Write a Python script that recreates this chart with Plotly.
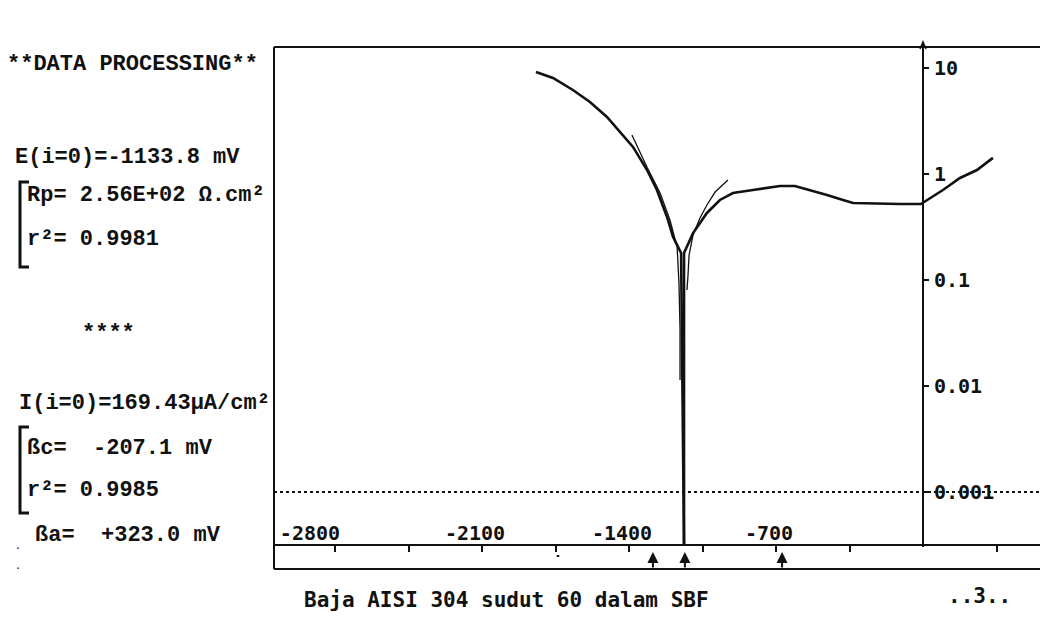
import math
import plotly.graph_objects as go

# ---------------- data ----------------
# measured polarization curve, E in mV, |i| in mA/cm2
cathodic_E = [-1843, -1762, -1667, -1586, -1505, -1443, -1381, -1314, -1267, -1219, -1190, -1152, -1138]
cathodic_i = [9.17, 8.05, 6.2, 4.78, 3.45, 2.49, 1.80, 1.09, 0.706, 0.393, 0.255, 0.180, 0.00032]

anodic_E = [-1138, -1138, -1095, -1029, -967, -905, -810, -681, -610, -538, -457, -381, -333, -110, -10, 95, 176, 257, 333]
anodic_i = [0.00032, 0.18, 0.277, 0.429, 0.569, 0.662, 0.706, 0.770, 0.770, 0.706, 0.634, 0.569, 0.533, 0.521, 0.521, 0.706, 0.917, 1.09, 1.42]

# Tafel fit curves
fit_c_E = [-1386, -1314, -1252, -1205, -1171, -1162, -1157, -1157]
fit_c_i = [2.33, 1.16, 0.662, 0.368, 0.205, 0.094, 0.034, 0.0114]
fit_a_E = [-929, -990, -1029, -1062, -1095, -1114, -1119, -1124]
fit_a_i = [0.877, 0.676, 0.51, 0.385, 0.266, 0.172, 0.111, 0.0805]

# markers under the potential axis
marker_E = [-1286, -1133.8, -671]
dash_marker_E = [-1738]

# axes
x_tickvals = [-2800, -2100, -1400, -700]
x_ticktext = ["-2800\u00a0\u00a0\u00a0", "-2100", "-1400", "-700"]
x_minorvals = [-2450, -1750, -1050, -350, 350]
y_tickvals = [0.001, 0.01, 0.1, 1, 10]
y_ticktext = ["0.001", "0.01", "0.1", "1", "10"]
ref_level = 0.001

left_lines = [
    ("**DATA PROCESSING**", 5, 65),
    ("E(i=0)=-1133.8 mV", 13, 157),
    ("Rp= 2.56E+02 \u03a9.cm\u00b2", 25, 196),
    ("r\u00b2= 0.9981", 25, 239),
    ("****", 80, 333),
    ("I(i=0)=169.43\u00b5A/cm\u00b2", 17, 403),
    ("\u00dfc=  -207.1 mV", 25, 448),
    ("r\u00b2= 0.9985", 25, 490),
    ("\u00dfa=  +323.0 mV", 33, 535),
]
caption = "Baja AISI 304 sudut 60 dalam SBF"
page_mark = "..3.."

# ---------------- geometry ----------------
W, H = 1040, 632
L, R, T, B = 274, 1040, 47, 569
Y_AXIS_PX = 923
X_AXIS_PX = 545


def fx(px):
    return (px - L) / (R - L)


def fy(py):
    return (B - py) / (B - T)


def e_at(px):
    return (px - Y_AXIS_PX) * 700 / 147


def logi_at(py):
    return (174 - py) / 106


INK = "#111111"
x_range = [e_at(L), e_at(R)]

fig = go.Figure()
# dotted reference level at 0.001
fig.add_trace(go.Scatter(x=x_range, y=[ref_level, ref_level], mode="lines",
                         line=dict(color=INK, width=2, dash="3px,3px"), hoverinfo="skip"))
fig.add_trace(go.Scatter(x=cathodic_E, y=cathodic_i, mode="lines",
                         line=dict(color=INK, width=2.6), hoverinfo="skip"))
fig.add_trace(go.Scatter(x=anodic_E, y=anodic_i, mode="lines",
                         line=dict(color=INK, width=2.6), hoverinfo="skip"))
fig.add_trace(go.Scatter(x=fit_c_E, y=fit_c_i, mode="lines",
                         line=dict(color=INK, width=1.3), hoverinfo="skip"))
fig.add_trace(go.Scatter(x=fit_a_E, y=fit_a_i, mode="lines",
                         line=dict(color=INK, width=1.3), hoverinfo="skip"))

shapes = []
# frame
shapes.append(dict(type="line", xref="paper", yref="paper", x0=0, x1=1, y0=1, y1=1,
                   line=dict(color=INK, width=2)))
shapes.append(dict(type="line", xref="paper", yref="paper", x0=0, x1=1, y0=0, y1=0,
                   line=dict(color=INK, width=2)))
shapes.append(dict(type="line", xref="paper", yref="paper", x0=0, x1=0, y0=0, y1=1,
                   line=dict(color=INK, width=2)))
# current axis line with arrow
yx = fx(Y_AXIS_PX)
shapes.append(dict(type="line", xref="paper", yref="paper", x0=yx, x1=yx,
                   y0=fy(X_AXIS_PX + 2), y1=fy(42),
                   line=dict(color=INK, width=2)))
shapes.append(dict(type="path", xref="paper", yref="paper",
                   path=f"M {fx(Y_AXIS_PX-3)},{fy(49)} L {yx},{fy(42)} L {fx(Y_AXIS_PX+3)},{fy(49)}",
                   line=dict(color=INK, width=1.5)))
# brackets on the left block
for top, bot in [(182, 267), (427, 513)]:
    shapes.append(dict(type="path", xref="paper", yref="paper",
                       path=f"M {fx(29)},{fy(top)} L {fx(20)},{fy(top)} L {fx(20)},{fy(bot)} L {fx(29)},{fy(bot)}",
                       line=dict(color=INK, width=3)))
# small dash marker under the axis
for e in dash_marker_E:
    shapes.append(dict(type="line", xref="x", yref="paper", x0=e - 6, x1=e + 6,
                       y0=fy(556), y1=fy(556), line=dict(color=INK, width=2)))

annotations = []
for e in marker_E:
    annotations.append(dict(x=e, xref="x", y=fy(552), yref="paper", text="",
                            showarrow=True, ax=0, ay=17, arrowhead=2, arrowsize=1.1,
                            arrowwidth=2, arrowcolor=INK))
for txt, px, py in left_lines:
    annotations.append(dict(x=fx(px), y=fy(py), xref="paper", yref="paper", text=txt,
                            showarrow=False, xanchor="left", yanchor="middle",
                            font=dict(family="Liberation Mono", size=22, color=INK, weight="bold")))
annotations.append(dict(x=fx(302), y=fy(600), xref="paper", yref="paper", text=caption,
                        showarrow=False, xanchor="left", yanchor="middle",
                        font=dict(family="DejaVu Sans Mono", size=21, color=INK, weight="bold")))
annotations.append(dict(x=fx(946), y=fy(596), xref="paper", yref="paper", text=page_mark,
                        showarrow=False, xanchor="left", yanchor="middle",
                        font=dict(family="DejaVu Sans Mono", size=21, color=INK, weight="bold")))
for yy in [553, 573]:
    annotations.append(dict(x=fx(18), y=fy(yy), xref="paper", yref="paper", text=".",
                            showarrow=False, xanchor="center", yanchor="bottom",
                            font=dict(family="DejaVu Sans Mono", size=10, color=INK)))

axis_font = dict(family="DejaVu Sans Mono", size=20, color=INK, weight="bold")

fig.update_layout(
    width=W, height=H,
    margin=dict(l=L, r=W - R, t=T, b=H - B, pad=0),
    paper_bgcolor="white", plot_bgcolor="white",
    showlegend=False,
    xaxis=dict(range=x_range, anchor="free", position=fy(X_AXIS_PX), side="top",
               showline=True, linecolor=INK, linewidth=2, showgrid=False, zeroline=False,
               ticks="inside", ticklen=6, tickwidth=2, tickcolor=INK,
               tickvals=x_tickvals, ticktext=x_ticktext, tickfont=axis_font,
               ticklabelshift=-7, ticklabelstandoff=-4,
               minor=dict(tickvals=x_minorvals, ticks="inside", ticklen=6, tickwidth=2,
                          tickcolor=INK, showgrid=False)),
    yaxis=dict(type="log", range=[logi_at(B), logi_at(T)], anchor="free", position=fx(Y_AXIS_PX),
               side="right", showline=False, showgrid=False, zeroline=False,
               ticks="outside", ticklen=5, tickwidth=2, tickcolor=INK,
               tickvals=y_tickvals, ticktext=y_ticktext, tickfont=axis_font,
               ticklabelstandoff=1),
    shapes=shapes,
    annotations=annotations,
)

fig.write_html("out.html")
